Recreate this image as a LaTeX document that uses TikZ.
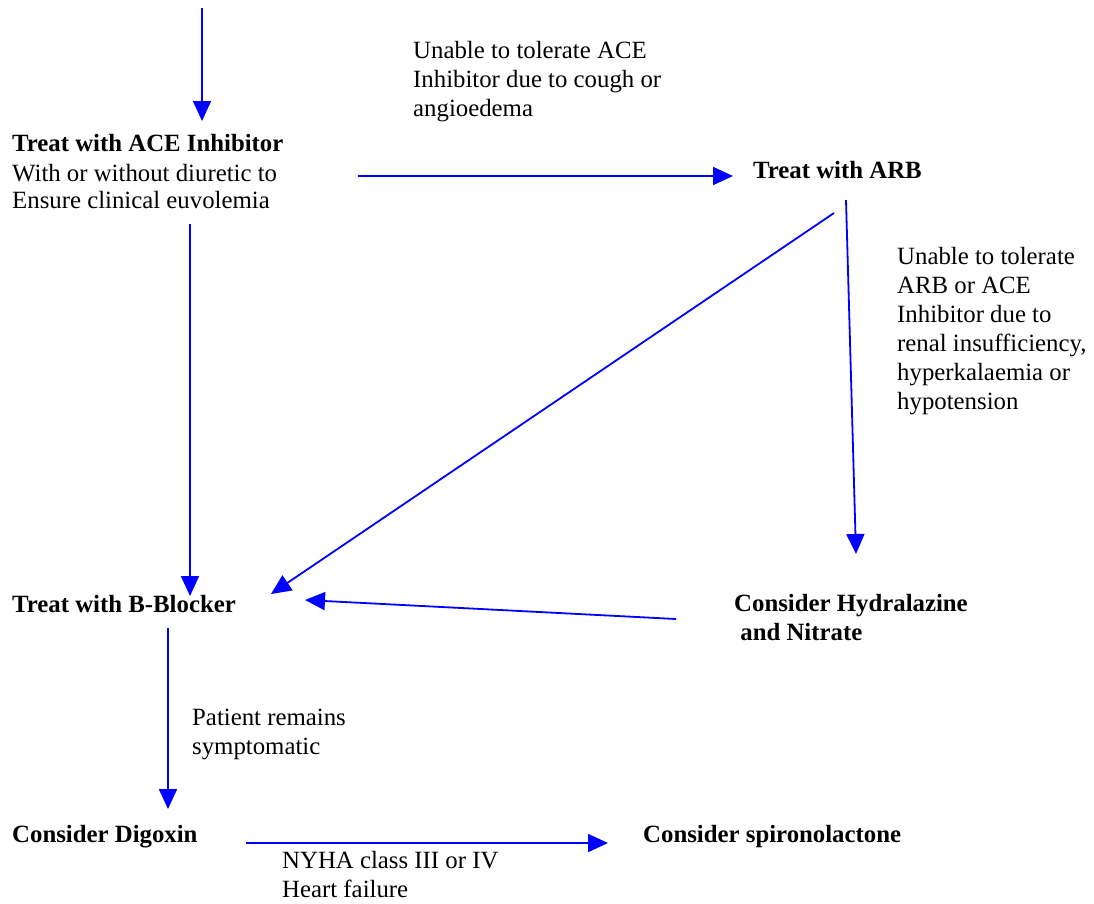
\documentclass[tikz,border=0pt]{standalone}
\usepackage{fontspec}
\setmainfont{Liberation Serif}
\usetikzlibrary{arrows.meta}
\definecolor{arrowblue}{RGB}{0,0,255}
\tikzset{
  txt/.style={inner sep=0pt, anchor=base west, align=left, font=\fontsize{24.8}{29}\selectfont},
  btxt/.style={txt, font=\fontsize{24.8}{29}\selectfont\bfseries},
  conn/.style={draw=arrowblue, line width=1.8pt, -{Triangle[length=20pt,width=18pt]}},
}
\begin{document}
\begin{tikzpicture}[x=1pt,y=-1pt]
\useasboundingbox (0,0) rectangle (1094,903);
% nodes (multi-line nodes are placed by the baseline of their last line)
\node[btxt] (ace) at (12,151) {Treat with ACE Inhibitor};
\node[txt] (ace2) at (12,181) {With or without diuretic to};
\node[txt] (ace3) at (12,208) {Ensure clinical euvolemia};
\node[btxt] (arb) at (753,178) {Treat with ARB};
\node[txt] (lab1) at (413,116) {Unable to tolerate ACE\\Inhibitor due to cough or\\angioedema};
\node[txt] (lab2) at (897,409) {Unable to tolerate\\ARB or ACE\\Inhibitor due to\\renal insufficiency,\\hyperkalaemia or\\hypotension};
\node[btxt] (bb) at (12,612) {Treat with B-Blocker};
\node[btxt] (hyd) at (734,640) {Consider Hydralazine\\\ and Nitrate};
\node[txt] (lab3) at (192,754) {Patient remains\\symptomatic};
\node[btxt] (dig) at (12,842) {Consider Digoxin};
\node[btxt] (spi) at (643,842) {Consider spironolactone};
\node[txt] (lab4) at (282,897) {NYHA class III or IV\\Heart failure};
% connector endpoints
\coordinate (start) at (202,8);
\coordinate (aceIn) at (202,121);
\coordinate (aceR) at (358,176);
\coordinate (arbL) at (733,176);
\coordinate (aceB) at (190,224);
\coordinate (bbT) at (190,596);
\coordinate (arbB1) at (846,200);
\coordinate (hydT) at (856,554);
\coordinate (arbB2) at (834,213);
\coordinate (bbR1) at (271,594);
\coordinate (hydL) at (676,619);
\coordinate (bbR2) at (305,600);
\coordinate (bbB) at (168,628);
\coordinate (digT) at (168,809);
\coordinate (digR) at (246,843);
\coordinate (spiL) at (608,843);
% connectors
\draw[conn] (start) -- (aceIn);
\draw[conn] (aceR) -- (arbL);
\draw[conn] (aceB) -- (bbT);
\draw[conn] (arbB1) -- (hydT);
\draw[conn] (arbB2) -- (bbR1);
\draw[conn] (hydL) -- (bbR2);
\draw[conn] (bbB) -- (digT);
\draw[conn] (digR) -- (spiL);
\end{tikzpicture}
\end{document}
